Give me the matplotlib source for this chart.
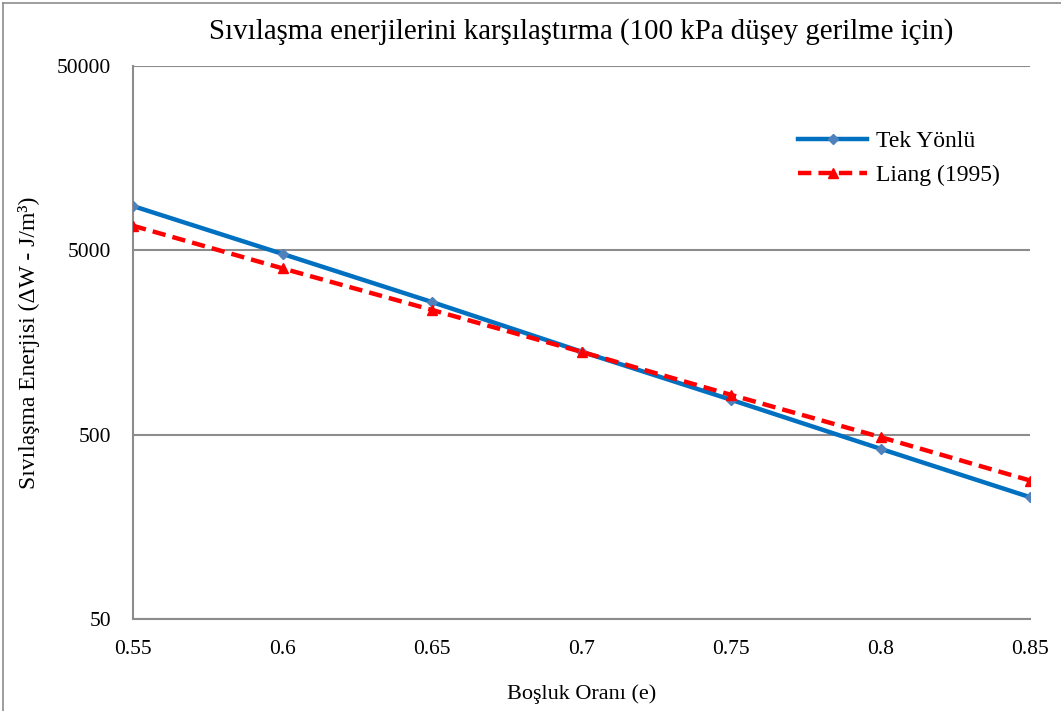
import matplotlib
matplotlib.use("Agg")
import matplotlib.pyplot as plt
from matplotlib.lines import Line2D

plt.rcParams['font.family'] = ['Liberation Serif', 'DejaVu Serif']

void_ratio = [0.55, 0.60, 0.65, 0.70, 0.75, 0.80, 0.85]
tek_yonlu = [8690, 4780, 2620, 1410, 773, 419, 229]
liang_1995 = [6795, 3990, 2373, 1406, 822, 485, 282]

x_ticks = [0.55, 0.6, 0.65, 0.7, 0.75, 0.8, 0.85]
x_tick_labels = ["0.55", "0.6", "0.65", "0.7", "0.75", "0.8", "0.85"]
y_ticks = [50, 500, 5000, 50000]
y_tick_labels = ["50", "500", "5000", "50000"]

fig = plt.figure(figsize=(10.61, 7.11), dpi=100)
ax = fig.add_axes([0.1254, 0.1294, 0.9708 - 0.1254, 0.9072 - 0.1294])

# outer chart border
fig.add_artist(Line2D([3 / 1061, 3 / 1061], [0, 1 - 3 / 711], transform=fig.transFigure,
                      color='#8c8c8c', lw=1.2))
fig.add_artist(Line2D([3 / 1061, 1], [1 - 3 / 711, 1 - 3 / 711], transform=fig.transFigure,
                      color='#8c8c8c', lw=1.2))

ax.plot(void_ratio, tek_yonlu, color='#0070C0', lw=3.2, marker='D', markersize=5.5,
        markerfacecolor='#4F81BD', markeredgecolor='#4F81BD', label='Tek Yönlü', zorder=3)
ax.plot(void_ratio, liang_1995, color='#FF0000', lw=3.2, ls=(0, (3, 1.6)), marker='^',
        markersize=7.5, markerfacecolor='#FF0000', markeredgecolor='#FF0000',
        label='Liang (1995)', zorder=4)

ax.set_yscale('log')
ax.set_ylim(50, 50000)
ax.set_xlim(0.55, 0.85)
ax.set_yticks(y_ticks)
ax.set_yticklabels(y_tick_labels)
ax.minorticks_off()
ax.set_xticks(x_ticks)
ax.set_xticklabels(x_tick_labels)
ax.tick_params(axis='both', length=0, labelsize=15.5, colors='black')
ax.tick_params(axis='x', pad=15)
ax.tick_params(axis='y', pad=16)

ax.grid(axis='y', color='#8c8c8c', lw=1.5)
ax.set_axisbelow(True)
for side in ['top', 'right']:
    ax.spines[side].set_visible(False)
for side in ['left', 'bottom']:
    ax.spines[side].set_color('#8c8c8c')
    ax.spines[side].set_linewidth(1.5)

ax.set_title('Sıvılaşma enerjilerini karşılaştırma (100 kPa düşey gerilme için)',
             fontsize=20.8, pad=20)
ax.set_xlabel('Boşluk Oranı (e)', fontsize=16, labelpad=18)
ax.set_ylabel('Sıvılaşma Enerjisi (ΔW - J/m³)', fontsize=17, labelpad=12)

ax.legend(loc='upper left', bbox_to_anchor=(0.718, 0.921), frameon=False, fontsize=17,
          handlelength=2.9, labelspacing=0.5, handletextpad=0.4)

fig.savefig('out.png', dpi=100)
